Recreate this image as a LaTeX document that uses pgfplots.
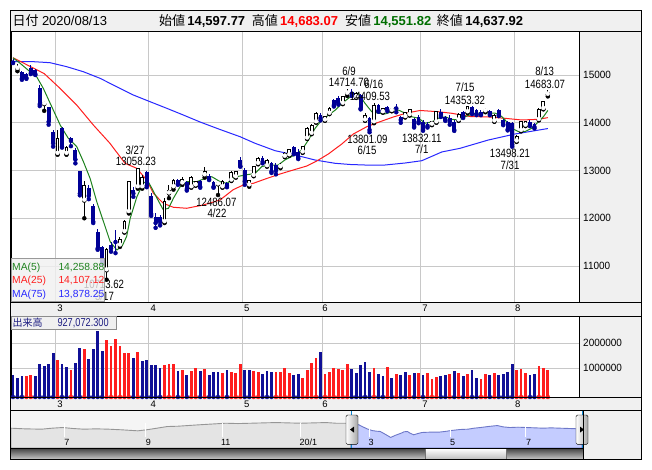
\documentclass[border=0pt]{standalone}
\usepackage{pgfplots}
\pgfplotsset{compat=1.18}
\usepackage{pgfplotstable}
\usepackage{fontspec}
\setmainfont{Liberation Sans}
\newfontfamily\jp{Noto Sans CJK JP}
\newfontfamily\lab[FakeStretch=0.8]{Liberation Sans}
\newfontfamily\axf[FakeStretch=0.95]{Liberation Sans}
\definecolor{navyc}{RGB}{0,0,150}
\definecolor{volb}{RGB}{16,16,150}
\definecolor{volr}{RGB}{255,30,30}
\definecolor{gridc}{RGB}{200,200,200}
\definecolor{panel}{RGB}{240,240,240}
\definecolor{ma5}{RGB}{30,130,30}
\definecolor{ma25}{RGB}{255,30,30}
\definecolor{ma75}{RGB}{40,40,255}
\definecolor{navblue}{RGB}{196,204,255}
\definecolor{navline}{RGB}{110,120,200}
\definecolor{navg}{RGB}{228,228,228}
\definecolor{navgl}{RGB}{150,150,150}
\definecolor{hdrgreen}{RGB}{0,110,0}
\definecolor{voltxt}{RGB}{30,30,130}

% ---------- candles: blue (down) ----------
\pgfplotstableread{
i O H L C
0 15290 15330 15250 15260
2 15070 15090 14900 14930
3 15020 15050 14920 14940
4 15150 15200 15020 15040
5 15100 15120 15000 15020
6 14730 14790 14350 14390
8 14320 14340 13960 14020
9 13810 13850 13500 13570
11 13880 13920 13480 13500
13 13680 13700 13510 13620
14 13430 13475 13150 13230
15 12990 13000 12480 12520
17 12630 12700 12400 12470
18 12260 12300 11900 11930
19 11720 11770 11340 11370
20 11400 11420 11050 11090
22 11440 11500 11300 11370
23 11550 11750 11270 11500
27 12590 12650 12450 12520
30 12970 13000 12650 12680
31 12470 12530 12050 12090
32 12030 12100 11800 11900
33 12020 12060 11850 11920
37 12800 12830 12700 12720
39 12750 12780 12580 12610
42 12770 12800 12640 12660
44 12890 12920 12800 12820
45 12760 12790 12640 12660
48 12740 12760 12650 12680
51 13220 13280 13080 13090
52 13010 13050 12700 12770
56 13270 13300 13150 13180
58 13150 13180 12950 12980
59 13120 13150 12920 12990
63 13490 13520 13340 13360
64 13390 13460 13240 13260
69 14160 14200 14050 14100
72 14480 14500 14340 14370
73 14520 14550 14380 14410
76 14650 14714.70 14560 14610
78 14580 14610 14280 14300
80 14090 14120 13801.09 13850
82 14370 14390 14230 14250
84 14330 14360 14240 14270
86 14330 14390 14220 14300
87 14120 14150 14000 14060
90 14070 14100 13900 13930
91 14130 14160 13990 14020
92 14020 14050 13832.11 13850
93 13980 14010 13900 13930
96 14220 14280 14120 14160
97 14120 14150 14040 14060
98 14100 14170 13960 14020
99 14020 14060 13830 13850
101 14220 14250 14100 14140
103 14340 14350 14180 14200
104 14270 14290 14160 14180
105 14230 14260 14160 14180
107 14240 14260 14160 14180
109 14270 14290 14140 14160
110 14060 14080 13950 13970
111 14020 14040 13840 13860
112 14000 14020 13498.21 13540
116 14020 14050 13930 13970
117 13970 13990 13880 13910
}\dnc

% ---------- candles: white (up) ----------
\pgfplotstableread{
i O H L C
1 15140 15230 15080 15160
7 14400 14450 14250 14420
10 13360 13850 13330 13670
12 13360 13520 13330 13490
16 12380 12770 12000 12680
21 10920 11380 10713.62 11340
24 11440 11600 11400 11550
25 11720 11970 11700 11930
26 12140 12790 12100 12770
28 12660 13058.23 12620 13040
29 12660 12900 12620 12860
34 11930 12420 11900 12350
35 12530 12700 12420 12590
36 12660 12830 12600 12790
38 12740 12860 12700 12820
40 12660 12880 12640 12860
41 12700 12780 12680 12760
43 12910 13080 12850 12980
46 12720 12780 12486.07 12740
47 12660 12800 12640 12760
49 12800 12990 12780 12960
50 12870 13000 12850 12970
53 12700 12800 12660 12790
54 12900 13100 12880 13080
55 13150 13280 13130 13260
57 13100 13240 13080 13220
60 13080 13150 13050 13110
61 13300 13380 13280 13360
62 13330 13450 13310 13430
65 13390 13520 13370 13500
66 13680 13920 13660 13890
67 13780 13970 13760 13950
68 14020 14220 14000 14200
70 14060 14150 14040 14130
71 14200 14320 14180 14300
74 14410 14560 14390 14540
75 14620 14700 14560 14640
77 14540 14650 14520 14620
79 14060 14200 14040 14160
81 14020 14409.53 13990 14370
83 14230 14300 14210 14290
85 14260 14300 14240 14290
88 14130 14230 14110 14210
89 14170 14290 14150 14270
94 13970 14040 13950 14020
95 14020 14250 14000 14230
100 14060 14200 14040 14180
102 14230 14353.32 14200 14340
106 14250 14300 14220 14270
108 14040 14180 14020 14160
113 13620 13740 13600 13720
114 13840 14040 13820 14020
115 13950 14040 13930 14020
118 14070 14300 14050 14280
119 14300 14460 14280 14440
120 14597.77 14683.07 14551.82 14637.92
}\upc

% ---------- volume ----------
\pgfplotstableread{
i v
0 730000
1 620000
2 690000
5 690000
6 1170000
7 1090000
8 1170000
9 1620000
11 1170000
12 1050000
14 1230000
15 1810000
17 1370000
18 1770000
19 2490000
20 1690000
27 1410000
29 1290000
30 1330000
31 1130000
32 1130000
33 1030000
37 890000
39 730000
42 890000
44 730000
45 850000
46 850000
48 930000
52 930000
53 930000
56 770000
57 890000
58 870000
63 730000
64 770000
69 1650000
76 970000
77 810000
78 1130000
79 1250000
80 870000
82 770000
83 690000
85 610000
87 730000
88 850000
90 810000
92 730000
96 690000
97 730000
99 890000
101 690000
103 930000
104 610000
107 730000
109 730000
110 770000
111 850000
112 1170000
116 730000
117 770000
}\volB
\pgfplotstableread{
i v
3 690000
4 730000
10 1330000
13 930000
16 1770000
21 2130000
22 1910000
23 2170000
24 1910000
25 1620000
26 1620000
28 1650000
34 1130000
35 1190000
36 1190000
38 930000
40 910000
41 1010000
43 970000
47 830000
49 850000
50 830000
51 1190000
54 890000
55 870000
59 850000
60 850000
61 1010000
62 810000
65 610000
66 930000
67 1230000
68 1410000
70 790000
71 870000
72 1010000
73 970000
74 930000
75 1170000
81 1030000
84 1050000
86 770000
89 730000
91 810000
93 810000
94 570000
95 650000
98 770000
100 810000
102 770000
105 570000
106 770000
108 810000
113 930000
114 970000
115 810000
118 1090000
119 1010000
120 930000
}\volR

\begin{document}
\begin{tikzpicture}
\useasboundingbox (0,0) rectangle (652pt,-469pt);
\begin{scope}[x=1pt,y=-1pt]
\fill[white] (0,0) rectangle (652,469);
\fill[panel] (10.5,10.5) rectangle (641.5,31);
\fill[panel] (579,31) rectangle (641.5,302);
\fill[panel] (10.5,302) rectangle (641.5,316);
\fill[panel] (579,316) rectangle (641.5,397);
\fill[panel] (10.5,397) rectangle (641.5,410);
\fill[panel] (583,410) rectangle (641.5,459.5);
\fill[black!4] (10.5,410) rectangle (351,448);
\end{scope}

% ================= main price axis =================
\begin{axis}[at={(11pt,-31pt)}, anchor=north west, scale only axis,
  width=568pt, height=271pt,
  xmin=-0.45, xmax=127, ymin=10246.2, ymax=15921.4,
  scaled y ticks=false,
  xtick={9.5,30.5,51.5,69.5,91.5,112.5}, xticklabels={},
  ytick={11000,12000,13000,14000,15000},
  yticklabels={11000,12000,13000,14000,15000},
  yticklabel pos=right,
  yticklabel style={font=\axf\fontsize{10.5}{12}\selectfont, inner sep=0pt, xshift=4pt},
  major tick length=0pt,
  xmajorgrids, ymajorgrids, grid style={gridc, line width=1pt},
  axis line style={black, line width=1pt}]
% moving averages
\addplot[ma75, line width=1pt, mark=none] table {
0 15279
4.56 15279
8.3 15258
12.05 15174
15.78 15069
19.52 14931
23.27 14755
27.0 14581
30.75 14441
34.49 14303
38.22 14162
41.97 14016
46.45 13859
50.94 13708
54.31 13570
58.8 13415
63.29 13325
67.77 13220
72.26 13151
75.63 13126
79.0 13115
83.48 13115
87.97 13157
91.72 13205
96.21 13388
100.31 13465
106.67 13639
112.66 13765
116.03 13817
120 13878.25
};
\addplot[ma25, line width=1pt, mark=none] table {
0 15362
7.0 15030
10.55 14720
14.3 14370
18.02 13953
21.75 13570
25.13 13151
27.76 13046
30.0 12801
31.49 12523
33.73 12313
35.97 12230
38.98 12209
42.71 12278
46.45 12383
49.44 12600
51.68 12697
53.93 12732
56.93 12833
59.92 12927
62.9 13011
65.91 13094
68.16 13199
70.76 13346
73.77 13555
76.37 13765
79.38 13917
82.36 14022
85.35 14121
88.35 14204
91.34 14257
95.45 14231
98.45 14198
102.56 14131
106.67 14121
110.41 14093
114.16 14058
117.89 14072
120 14107.12
};
\addplot[ma5, line width=1pt, mark=none] table {
0 15360
1.6 15245
3.8 15070
5.3 14965
6.8 14720
8.7 14335
10.6 13950
12.4 13675
14.3 13500
15.8 13185
17.3 12835
18.8 12345
20.3 11930
21.8 11510
23.3 11335
24.5 11420
25.5 11620
26.3 12000
27.8 12450
29.2 12730
30.2 12790
31.2 12620
32.3 12420
33.7 12180
34.9 12210
36 12420
37.5 12660
39 12765
41.2 12765
43.1 12835
44.6 12870
46.5 12765
48 12730
49.8 12865
52.1 12905
54.3 12940
55.8 13080
57.3 13115
59.5 13115
61 13220
62.5 13290
64.8 13430
66.3 13640
67.8 13885
69.3 14060
70.8 14160
72.3 14265
73.8 14405
75.6 14535
76.5 14615
77.5 14615
79 14405
80.5 14230
82 14200
83.5 14185
85 14230
86.5 14265
88 14200
89.5 14125
91 14095
92.5 13990
94 14020
95.5 14095
97 14125
98.5 14070
100.3 14060
101.4 14125
103.7 14200
105.9 14210
108.2 14200
109.3 14160
110.4 14060
111.9 13885
113.4 13815
114.9 13815
116.4 13885
117.9 14020
119 14125
119.8 14230
120 14258.88
};
% wicks
\addplot[only marks, mark=none, navyc, error bars/.cd, y dir=plus, y explicit, error mark=none,
  error bar style={line width=1pt}]
  table[x=i, y=L, y error plus expr=\thisrow{H}-\thisrow{L}] {\dnc};
\addplot[only marks, mark=none, black, error bars/.cd, y dir=plus, y explicit, error mark=none,
  error bar style={line width=1pt}]
  table[x=i, y=L, y error plus expr=\thisrow{H}-\thisrow{L}] {\upc};
% bodies
\addplot[only marks, mark=none, navyc, error bars/.cd, y dir=plus, y explicit, error mark=none,
  error bar style={line width=3.8pt}]
  table[x=i, y=C, y error plus expr=\thisrow{O}-\thisrow{C}] {\dnc};
\addplot[only marks, mark=none, black, error bars/.cd, y dir=plus, y explicit, error mark=none,
  error bar style={line width=3.8pt}]
  table[x=i, y expr=\thisrow{O}-10, y error plus expr=\thisrow{C}-\thisrow{O}+20] {\upc};
\addplot[only marks, mark=none, white, error bars/.cd, y dir=plus, y explicit, error mark=none,
  error bar style={line width=1.8pt}]
  table[x=i, y expr=\thisrow{O}+11, y error plus expr={max(\thisrow{C}-\thisrow{O}-22,0)}] {\upc};
\end{axis}

% ================= volume axis =================
\begin{axis}[at={(11pt,-316pt)}, anchor=north west, scale only axis,
  width=568pt, height=81pt,
  xmin=-0.45, xmax=127, ymin=-148000, ymax=3092000,
  scaled y ticks=false,
  xtick={9.5,30.5,51.5,69.5,91.5,112.5}, xticklabels={},
  ytick={1000000,2000000}, yticklabels={1000000,2000000},
  yticklabel pos=right,
  yticklabel style={font=\axf\fontsize{10.5}{12}\selectfont, inner sep=0pt, xshift=4pt},
  major tick length=0pt,
  xmajorgrids, ymajorgrids, grid style={gridc, line width=1pt},
  axis line style={black, line width=1pt}]
\addplot[only marks, mark=none, volb, error bars/.cd, y dir=plus, y explicit, error mark=none,
  error bar style={line width=2.8pt}]
  table[x=i, y expr=-148000, y error plus expr=\thisrow{v}+148000] {\volB};
\addplot[only marks, mark=none, volr, error bars/.cd, y dir=plus, y explicit, error mark=none,
  error bar style={line width=2.8pt}]
  table[x=i, y expr=-148000, y error plus expr=\thisrow{v}+148000] {\volR};
\end{axis}

% ================= navigator =================
\begin{axis}[at={(11pt,-410pt)}, anchor=north west, scale only axis,
  width=572pt, height=38pt, xmin=11, xmax=583, ymin=0, ymax=115, hide axis]
\addplot[fill=white, draw=none] coordinates {(351,0) (351,115) (582,115) (582,0)} \closedcycle;
\addplot[fill=navg, draw=navgl, line width=0.9pt] table {
11 60
25 58
41.8 57
52 60
62.7 62
73 59
83.6 57
96 58
108.6 57
122 55
137.9 52
146.3 55
157 60
167.2 65
178 66
188 68
198 70
208.9 72
225.7 75
238 74
250.7 75
263 76
275.8 77
288 76
300.9 75
313 76
326 77
336 75
344.8 75
351 74
} \closedcycle;
\addplot[fill=navblue, draw=navline, line width=0.9pt] table {
351 74
355.2 73
359 70
363.6 63
367 58
371.9 53
376 51
380.3 50
385 42
390.7 32
395 38
401.2 45
404 49
407.4 50
410 45
413.7 40
418 44
422.1 47
430 48
438.8 48
445 50
451.3 53
460 56
468 57
474 60
480.5 62
488 65
497.3 68
503 64
509.8 62
518 63
526.5 62
535 61
543.3 60
551 61
560 60
570 59
578.8 58
582 58
} \closedcycle;
\end{axis}

% ================= overlay =================
\begin{scope}[x=1pt,y=-1pt]
% navigator ticks and labels
\foreach \xx in {64.8,145.4,222.7,300,369.8,450.5,525.7}
  \draw[white, line width=1pt] (\xx,423) -- (\xx,437);
\foreach \xx/\tt in {66.9/7,148.3/9,225.7/11,308.4/20\slash 1,371/3,452.6/5,528.6/7}
  \node[font=\fontsize{9}{10}\selectfont, inner sep=0, anchor=base] at (\xx,445) {\tt};
\draw[cyan!70!blue, line width=1pt] (351,410) -- (351,448);
\draw[cyan!70!blue, line width=1pt] (582,410) -- (582,448);
% scrollbar
\shade[top color=black!75, bottom color=black!20] (10.5,448) rectangle (583,459.5);
\shade[top color=white, bottom color=black!25, draw=black!55] (425.4,448.5) rectangle (506.5,459);
% handles
\shade[left color=white, right color=black!35, draw=black, rounded corners=1.5pt] (346,415) rectangle (358,444.3);
\fill[black] (350,429.6) -- (354,426.6) -- (354,432.6) -- cycle;
\shade[left color=white, right color=black!35, draw=black, rounded corners=1.5pt] (576,415) rectangle (588,444.3);
\fill[black] (584,429.6) -- (580,426.6) -- (580,432.6) -- cycle;
% frame lines
\draw[black, line width=1pt] (10.5,10.5) rectangle (641.5,459.5);
\draw[black, line width=1pt] (10.5,31) -- (641.5,31);
\draw[black, line width=1pt] (10.5,302) -- (641.5,302);
\draw[black, line width=1pt] (10.5,316) -- (641.5,316);
\draw[black, line width=1pt] (10.5,397) -- (641.5,397);
\draw[black, line width=1pt] (10.5,410) -- (641.5,410);
\draw[black, line width=1pt] (10.5,448) -- (583,448);
\draw[black, line width=1pt] (583,410) -- (583,459.5);
% month labels in strips
\foreach \xx/\tt in {60/3,153.3/4,246.7/5,325/6,425/7,517.7/8} {
  \node[font=\fontsize{9.5}{11}\selectfont, inner sep=0, anchor=base] at (\xx,311.4) {\tt};
  \node[font=\fontsize{9.5}{11}\selectfont, inner sep=0, anchor=base] at (\xx,407.1) {\tt};
}
% header
\node[font=\jp\fontsize{13}{15}\selectfont, inner sep=0, anchor=base west] at (12.5,25.5) {日付};
\node[font=\fontsize{13}{15}\selectfont, inner sep=0, anchor=base west] at (41.8,25.5) {2020/08/13};
\node[font=\jp\fontsize{13}{15}\selectfont, inner sep=0, anchor=base west] at (158.8,25.5) {始値};
\node[font=\bfseries\fontsize{13}{15}\selectfont, inner sep=0, anchor=base west] at (187.2,25.5) {14,597.77};
\node[font=\jp\fontsize{13}{15}\selectfont, inner sep=0, anchor=base west] at (251.6,25.5) {高値};
\node[font=\bfseries\fontsize{13}{15}\selectfont, inner sep=0, anchor=base west, text=red] at (280,25.5) {14,683.07};
\node[font=\jp\fontsize{13}{15}\selectfont, inner sep=0, anchor=base west] at (344.8,25.5) {安値};
\node[font=\bfseries\fontsize{13}{15}\selectfont, inner sep=0, anchor=base west, text=hdrgreen] at (373.2,25.5) {14,551.82};
\node[font=\jp\fontsize{13}{15}\selectfont, inner sep=0, anchor=base west] at (436.7,25.5) {終値};
\node[font=\bfseries\fontsize{13}{15}\selectfont, inner sep=0, anchor=base west] at (465.1,25.5) {14,637.92};
% annotations
\begin{scope}[every node/.style={font=\lab\fontsize{12}{14}\selectfont, inner sep=0, anchor=base}]
\node at (135,154.3) {3/27};
\node at (136,165.5) {13058.23};
\node at (216.4,206) {12486.07};
\node at (217,217.6) {4/22};
\node at (349,75) {6/9};
\node at (349,86.5) {14714.70};
\node at (373.8,88.8) {6/16};
\node at (370,100) {14409.53};
\node at (367.5,143) {13801.09};
\node at (367,154.8) {6/15};
\node at (421.7,142.3) {13832.11};
\node at (421.7,153.8) {7/1};
\node at (465,91.8) {7/15};
\node at (465,104) {14353.32};
\node at (510,157.6) {13498.21};
\node at (510,169.6) {7/31};
\node at (544.7,75.8) {8/13};
\node at (545,88) {14683.07};
\node at (104,288.1) {10713.62};
\node at (104.5,300.1) {3/17};
\end{scope}
% legend box
\fill[panel, fill opacity=0.8] (11,258.3) rectangle (104,301.5);
\draw[black!40, line width=0.8pt] (11,258.3) rectangle (104,301.5);
\begin{scope}[every node/.style={font=\fontsize{10.3}{12}\selectfont, inner sep=0, anchor=base west}]
\node[text=ma5] at (12,270.4) {MA(5)};
\node[text=ma5] at (58.3,270.4) {14,258.88};
\node[text=ma25] at (12,283.7) {MA(25)};
\node[text=ma25] at (58.3,283.7) {14,107.12};
\node[text=ma75] at (12,297) {MA(75)};
\node[text=ma75] at (58.3,297) {13,878.25};
\end{scope}
% volume label
\fill[panel] (11,316.5) rectangle (116,329.3);
\draw[black!45, line width=0.8pt] (11,316.5) rectangle (116,329.3);
\node[font=\jp\fontsize{10}{12}\selectfont, inner sep=0, anchor=west, text=voltxt] at (12.5,322.8) {出来高};
\node[font=\lab\fontsize{11.5}{13}\selectfont, inner sep=0, anchor=base west, text=voltxt] at (57.3,326.9) {927,072.300};
\end{scope}
\end{tikzpicture}
\end{document}
